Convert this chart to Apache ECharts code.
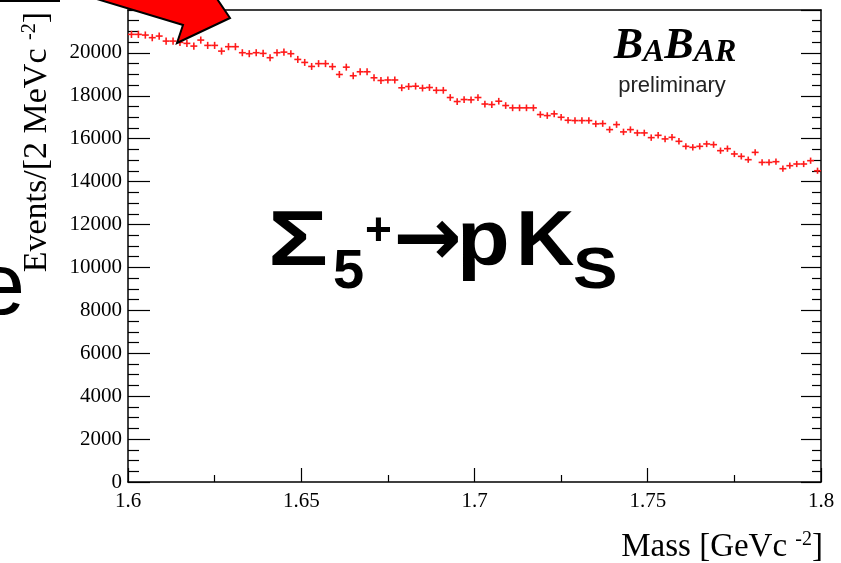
<!DOCTYPE html>
<html><head><meta charset="utf-8">
<script src="https://cdn.jsdelivr.net/npm/echarts@6/dist/echarts.min.js"></script>
<style>html,body{margin:0;padding:0;background:#fff}#c{width:841px;height:563px}</style>
</head><body><div id="c"></div>
<script>
// Histogram: events per 2 MeV bin, 1.6 - 1.8 GeV
const binStart = 1.6;
const binWidth = 0.002;
const counts = [20864,20864,20832,20710,20785,20551,20551,20491,20444,20318,
20598,20350,20350,20084,20290,20290,20009,19963,20009,19977,
19776,20009,20037,19963,19696,19556,19369,19500,19500,19360,
18995,19336,18935,19121,19121,18841,18715,18738,18738,18374,
18435,18449,18360,18388,18257,18257,17921,17734,17827,17813,
17921,17617,17593,17748,17547,17439,17439,17439,17439,17126,
17079,17159,17000,16860,16846,16846,16846,16692,16706,16425,
16659,16318,16425,16271,16271,16051,16159,15991,16065,15879,
15645,15598,15645,15757,15724,15444,15537,15290,15178,15023,
15364,14897,14897,14930,14603,14743,14822,14822,14977,14509];
const xTickLabels = ['1.6','1.65','1.7','1.75','1.8'];
const yTickLabels = ['0','2000','4000','6000','8000','10000','12000','14000','16000','18000','20000'];
const xTitle = '{a|Mass [GeVc }{s|-2}{a|]}';
const yTitle = '{a|Events/[2 MeVc }{s|-2}{a|]}';

const data = counts.map((c, i) => [binStart + binWidth * (i + 0.5), c]);

const serif = 'Liberation Serif';
const chart = echarts.init(document.getElementById('c'));
const axisCommon = {
  type: 'value', splitLine: {show: false},
  axisLine: {show: true, onZero: false, lineStyle: {color: '#000', width: 1.5}}
};
// baseline helper for middle-aligned text (Liberation Sans metrics)
const mid = (baseline, fs) => baseline - 0.3465 * fs;
const ann = (text, x, baseline, fs, extra) => Object.assign({
  type: 'text', x: x, y: mid(baseline, fs), z: 20,
  style: {text: text, font: 'bold ' + fs + 'px "Liberation Sans"', fill: '#000', align: 'left', verticalAlign: 'middle'}
}, extra || {});

chart.setOption({
  animation: false,
  backgroundColor: '#fff',
  grid: {left: 128, right: 20, top: 10, bottom: 81, outerBoundsMode: 'none'},
  xAxis: [
    Object.assign({}, axisCommon, {
      min: 1.6, max: 1.8, interval: 0.05, position: 'bottom',
      axisTick: {inside: true, length: 14, lineStyle: {color: '#000', width: 1.2}},
      minorTick: {show: true, splitNumber: 2, length: 7, lineStyle: {color: '#000', width: 1.2}},
      axisLabel: {margin: 9, fontFamily: serif, fontSize: 21, color: '#000',
        formatter: v => xTickLabels[Math.round((v - 1.6) / 0.05)] || ''}
    }),
    Object.assign({}, axisCommon, {
      min: 1.6, max: 1.8, interval: 0.05, position: 'top',
      axisTick: {show: false}, axisLabel: {show: false}
    })
  ],
  yAxis: [
    Object.assign({}, axisCommon, {
      min: 0, max: 22000, interval: 2000, position: 'left',
      axisTick: {inside: true, length: 22, lineStyle: {color: '#000', width: 1.2}},
      minorTick: {show: true, splitNumber: 4, length: 11, lineStyle: {color: '#000', width: 1.2}},
      axisLabel: {margin: 6, fontFamily: serif, fontSize: 21, color: '#000',
        formatter: v => yTickLabels[Math.round(v / 2000)] || ''}
    }),
    Object.assign({}, axisCommon, {
      min: 0, max: 22000, interval: 2000, position: 'right',
      axisTick: {inside: true, length: 20, lineStyle: {color: '#000', width: 1.2}},
      minorTick: {show: true, splitNumber: 4, length: 9, lineStyle: {color: '#000', width: 1.2}},
      axisLabel: {show: false}
    })
  ],
  series: [{
    type: 'custom', xAxisIndex: 0, yAxisIndex: 0, z: 5,
    data: data,
    renderItem: (params, api) => {
      const x = api.value(0), y = api.value(1);
      const e = Math.sqrt(y);
      const a = api.coord([x - binWidth / 2, y]);
      const b = api.coord([x + binWidth / 2, y]);
      const c = api.coord([x, y + e]);
      const d = api.coord([x, y - e]);
      const st = {stroke: '#ff1a1a', lineWidth: 1.6};
      return {type: 'group', children: [
        {type: 'line', shape: {x1: a[0], y1: a[1], x2: b[0], y2: b[1]}, style: st},
        {type: 'line', shape: {x1: c[0], y1: c[1] - 0.5, x2: d[0], y2: d[1] + 0.5}, style: st}
      ]};
    }
  }],
  graphic: [
    {type: 'text', x: 37, y: 12, rotation: Math.PI / 2, z: 10,
      style: {text: yTitle, align: 'right', verticalAlign: 'middle',
        rich: {a: {fontFamily: serif, fontSize: 34, fill: '#000', lineHeight: 34},
               s: {fontFamily: serif, fontSize: 20, fill: '#000', lineHeight: 20, verticalAlign: 'top'}}}},
    {type: 'text', x: 823, y: 564, z: 10,
      style: {text: xTitle, align: 'right', verticalAlign: 'bottom',
        rich: {a: {fontFamily: serif, fontSize: 33, fill: '#000', lineHeight: 34},
               s: {fontFamily: serif, fontSize: 20, fill: '#000', lineHeight: 20, verticalAlign: 'top'}}}},
    {type: 'text', x: 675, y: 69, z: 10,
      style: {text: '{b|B}{s|A}{b|B}{s|AR}', align: 'center', verticalAlign: 'bottom',
        rich: {b: {fontFamily: serif, fontStyle: 'italic', fontWeight: 'bold', fontSize: 44, fill: '#000', lineHeight: 40, verticalAlign: 'bottom'},
               s: {fontFamily: serif, fontStyle: 'italic', fontWeight: 'bold', fontSize: 32, fill: '#000', lineHeight: 30, verticalAlign: 'bottom'}}}},
    {type: 'text', x: 672, y: mid(94, 22), z: 10,
      style: {text: 'preliminary', font: '22px "Liberation Sans"', fill: '#222', align: 'center', verticalAlign: 'middle'}},
    // overlay annotation text
    ann('Σ', 268, 270, 77, {scaleX: 1.3, originX: 0}),
    ann('5', 333, 292, 56),
    ann('+', 365, 248, 46),
    {type: 'text', x: 393, y: 244, z: 20, style: {text: '→', font: 'bold 82px "DejaVu Sans"', fill: '#000', align: 'left', verticalAlign: 'middle'}},
    ann('p', 457, 270, 77, {scaleX: 1.12}),
    ann('K', 516, 270, 77, {scaleX: 1.05}),
    ann('S', 573, 292, 58, {scaleX: 1.15}),
    {type: 'text', x: -24, y: mid(320, 88), z: 20, style: {text: 'e', font: '88px "Liberation Sans"', fill: '#000', align: 'left', verticalAlign: 'middle'}},
    {type: 'line', z: 20, shape: {x1: 0, y1: 1, x2: 60, y2: 1}, style: {stroke: '#000', lineWidth: 2}},
    {type: 'polygon', z: 30, shape: {points: [[67, -10], [183, 25], [177, 43], [230, 18], [211, -10]]},
      style: {fill: '#ff0000', stroke: '#000', lineWidth: 2}}
  ]
});
</script></body></html>
